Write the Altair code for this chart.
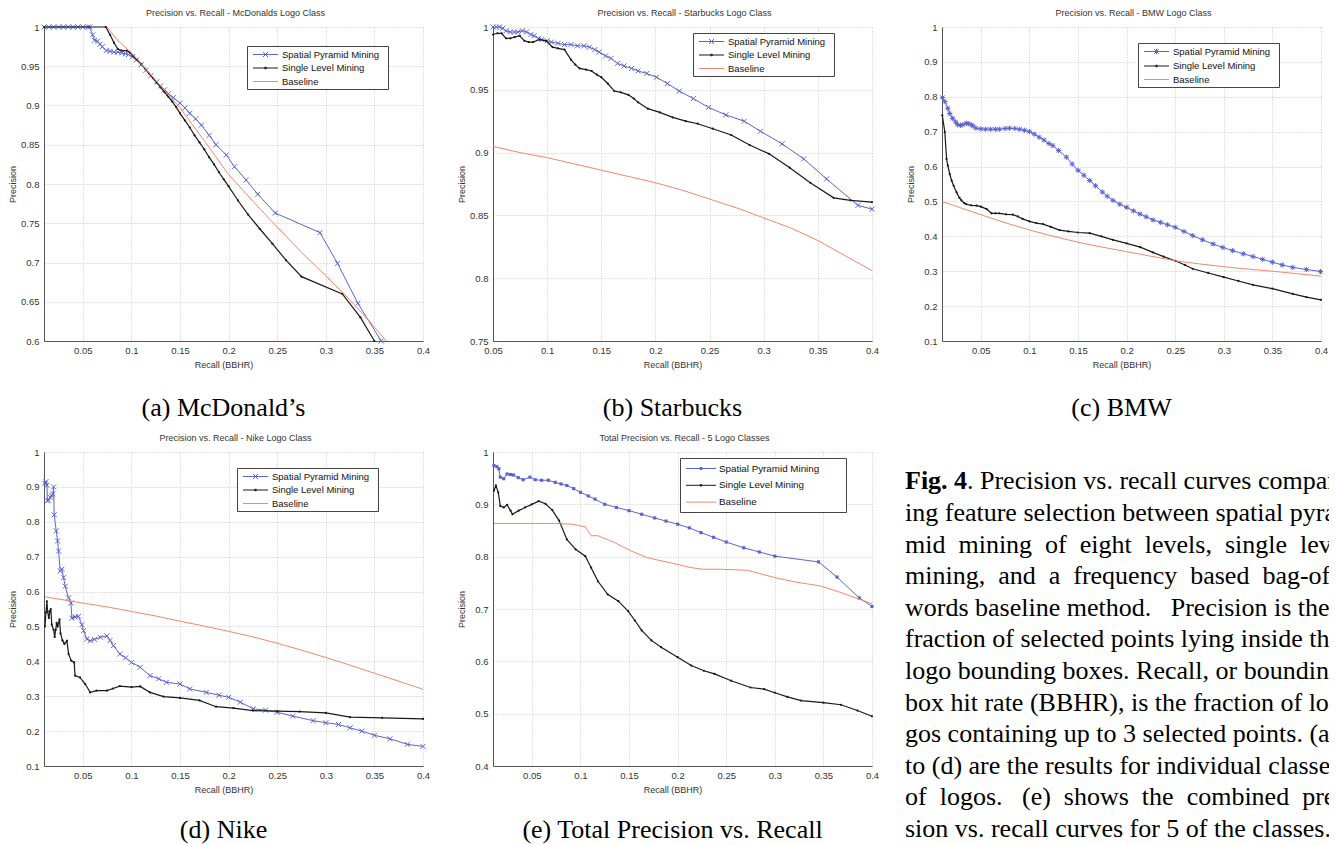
import altair as alt
import pandas as pd

SERIES = ["Spatial Pyramid Mining", "Single Level Mining", "Baseline"]
COLORS = ["#5a64d0", "#1a1a1a", "#f4866c"]
SANS = "Liberation Sans"
SERIF = "Liberation Serif"
NB = "\u00a0"
ZW = "\u200b"
W, H = 379, 314

X_TICKS = [0.05, 0.1, 0.15, 0.2, 0.25, 0.3, 0.35, 0.4]

# ---------------- (a) McDonald's ----------------
a_spm_x = [0.01, 0.015, 0.02, 0.025, 0.03, 0.035, 0.04, 0.045, 0.05, 0.055, 0.057, 0.06, 0.062, 0.065, 0.0675, 0.07, 0.074, 0.078, 0.082, 0.086, 0.09, 0.094, 0.097, 0.101, 0.105, 0.11, 0.115, 0.12, 0.126, 0.13, 0.134, 0.138, 0.143, 0.15, 0.155, 0.16, 0.166, 0.172, 0.18, 0.187, 0.1976, 0.206, 0.218, 0.23, 0.248, 0.294, 0.312, 0.333, 0.357]
a_spm_y = [1, 1, 1, 1, 1, 1, 1, 1, 1, 1, 1, 0.99, 0.983, 0.982, 0.978, 0.975, 0.97, 0.969, 0.968, 0.968, 0.967, 0.966, 0.965, 0.962, 0.958, 0.952, 0.945, 0.938, 0.93, 0.925, 0.92, 0.915, 0.91, 0.903, 0.897, 0.89, 0.883, 0.875, 0.862, 0.85, 0.837, 0.822, 0.805, 0.787, 0.763, 0.738, 0.699, 0.648, 0.6]
a_slm_x = [0.01, 0.0736, 0.078, 0.082, 0.086, 0.09, 0.095, 0.098, 0.102, 0.106, 0.11, 0.114, 0.118, 0.122, 0.126, 0.13, 0.134, 0.138, 0.142, 0.146, 0.15, 0.155, 0.16, 0.165, 0.17, 0.175, 0.18, 0.185, 0.19, 0.195, 0.2, 0.2096, 0.22, 0.232, 0.245, 0.259, 0.275, 0.317, 0.3356, 0.35]
a_slm_y = [1, 1, 0.99, 0.98, 0.972, 0.97, 0.97, 0.968, 0.963, 0.958, 0.953, 0.947, 0.941, 0.935, 0.929, 0.923, 0.917, 0.911, 0.905, 0.898, 0.89, 0.881, 0.872, 0.862, 0.853, 0.844, 0.834, 0.825, 0.815, 0.806, 0.797, 0.779, 0.761, 0.743, 0.724, 0.703, 0.682, 0.66, 0.63, 0.6]
a_base_x = [0.075, 0.085, 0.1, 0.125, 0.15, 0.175, 0.2, 0.225, 0.25, 0.275, 0.3, 0.325, 0.345, 0.362]
a_base_y = [1.0, 0.984, 0.967, 0.932, 0.897, 0.855, 0.812, 0.778, 0.745, 0.713, 0.683, 0.652, 0.625, 0.6]

# ---------------- (b) Starbucks ----------------
b_spm_x = [0.05, 0.053, 0.056, 0.059, 0.062, 0.066, 0.07, 0.073, 0.077, 0.081, 0.085, 0.088, 0.092, 0.095, 0.1, 0.104, 0.11, 0.116, 0.122, 0.128, 0.134, 0.139, 0.144, 0.148, 0.154, 0.159, 0.165, 0.171, 0.178, 0.184, 0.192, 0.201, 0.211, 0.222, 0.235, 0.249, 0.265, 0.282, 0.297, 0.317, 0.337, 0.358, 0.387, 0.4]
b_spm_y = [1.0, 1.0, 1.0, 0.999, 0.997, 0.996, 0.996, 0.996, 0.997, 0.996, 0.994, 0.993, 0.991, 0.99, 0.989, 0.988, 0.987, 0.986, 0.986, 0.985, 0.985, 0.984, 0.982, 0.98, 0.977, 0.975, 0.971, 0.969, 0.967, 0.965, 0.963, 0.96, 0.955, 0.949, 0.943, 0.936, 0.93, 0.925, 0.917, 0.907, 0.895, 0.879, 0.858, 0.855]
b_slm_x = [0.05, 0.054, 0.058, 0.062, 0.066, 0.07, 0.0746, 0.079, 0.083, 0.087, 0.093, 0.099, 0.105, 0.11, 0.116, 0.122, 0.126, 0.13, 0.136, 0.141, 0.146, 0.15, 0.156, 0.162, 0.168, 0.175, 0.18, 0.184, 0.193, 0.204, 0.216, 0.228, 0.239, 0.253, 0.27, 0.287, 0.305, 0.324, 0.343, 0.3646, 0.38, 0.4]
b_slm_y = [0.994, 0.995, 0.995, 0.991, 0.991, 0.992, 0.993, 0.989, 0.988, 0.988, 0.99, 0.989, 0.984, 0.983, 0.982, 0.974, 0.97, 0.967, 0.966, 0.965, 0.962, 0.96, 0.955, 0.949, 0.948, 0.946, 0.943, 0.94, 0.935, 0.932, 0.928, 0.925, 0.923, 0.919, 0.914, 0.906, 0.899, 0.888, 0.876, 0.864, 0.862, 0.8606]
b_base_x = [0.05, 0.075, 0.1, 0.125, 0.15, 0.175, 0.2, 0.225, 0.25, 0.275, 0.3, 0.325, 0.35, 0.375, 0.4]
b_base_y = [0.905, 0.9, 0.896, 0.891, 0.886, 0.881, 0.876, 0.87, 0.863, 0.856, 0.848, 0.84, 0.83, 0.818, 0.806]

# ---------------- (c) BMW ----------------
c_spm_x = [0.0105, 0.013, 0.016, 0.018, 0.021, 0.024, 0.026, 0.029, 0.0316, 0.035, 0.037, 0.04, 0.042, 0.045, 0.05, 0.055, 0.06, 0.065, 0.069, 0.075, 0.0795, 0.085, 0.09, 0.095, 0.1, 0.105, 0.11, 0.115, 0.12, 0.124, 0.13, 0.138, 0.144, 0.15, 0.156, 0.162, 0.168, 0.175, 0.18, 0.186, 0.193, 0.2, 0.207, 0.2137, 0.22, 0.227, 0.235, 0.242, 0.25, 0.259, 0.268, 0.278, 0.289, 0.299, 0.309, 0.32, 0.33, 0.34, 0.35, 0.36, 0.371, 0.385, 0.3995]
c_spm_y = [0.798, 0.786, 0.767, 0.752, 0.738, 0.728, 0.72, 0.718, 0.72, 0.724, 0.723, 0.72, 0.716, 0.71, 0.708, 0.707, 0.707, 0.707, 0.707, 0.709, 0.71, 0.709, 0.707, 0.704, 0.70, 0.693, 0.684, 0.676, 0.666, 0.66, 0.646, 0.627, 0.607, 0.589, 0.575, 0.56, 0.545, 0.527, 0.515, 0.503, 0.492, 0.483, 0.473, 0.464, 0.456, 0.447, 0.44, 0.433, 0.426, 0.414, 0.402, 0.39, 0.378, 0.368, 0.359, 0.35, 0.342, 0.334, 0.326, 0.318, 0.311, 0.305, 0.299]
c_slm_x = [0.0103, 0.0129, 0.0147, 0.016, 0.018, 0.0199, 0.022, 0.025, 0.028, 0.03, 0.033, 0.035, 0.04, 0.0455, 0.05, 0.056, 0.061, 0.065, 0.069, 0.076, 0.083, 0.088, 0.093, 0.1, 0.107, 0.114, 0.122, 0.131, 0.14, 0.15, 0.162, 0.174, 0.186, 0.2, 0.214, 0.227, 0.238, 0.25, 0.26, 0.268, 0.284, 0.3, 0.315, 0.33, 0.35, 0.371, 0.385, 0.4]
c_slm_y = [0.747, 0.699, 0.622, 0.603, 0.578, 0.56, 0.545, 0.526, 0.51, 0.503, 0.495, 0.492, 0.489, 0.488, 0.485, 0.478, 0.466, 0.466, 0.466, 0.463, 0.462, 0.457, 0.45, 0.443, 0.438, 0.435, 0.427, 0.418, 0.414, 0.411, 0.409, 0.4, 0.39, 0.38, 0.369, 0.354, 0.342, 0.33, 0.318, 0.307, 0.295, 0.283, 0.272, 0.261, 0.25, 0.235, 0.226, 0.218]
c_base_x = [0.0103, 0.03, 0.05, 0.075, 0.1, 0.125, 0.15, 0.175, 0.2, 0.225, 0.25, 0.275, 0.3, 0.325, 0.35, 0.375, 0.4]
c_base_y = [0.5, 0.481, 0.462, 0.439, 0.418, 0.4, 0.383, 0.369, 0.356, 0.343, 0.33, 0.321, 0.313, 0.306, 0.3, 0.293, 0.286]

# ---------------- (d) Nike ----------------
d_spm_x = [0.011, 0.012, 0.013, 0.0135, 0.0147, 0.0164, 0.018, 0.019, 0.0199, 0.0205, 0.0226, 0.024, 0.025, 0.0267, 0.0284, 0.0301, 0.0318, 0.0353, 0.0377, 0.0387, 0.042, 0.0455, 0.049, 0.0507, 0.054, 0.0575, 0.062, 0.068, 0.0747, 0.078, 0.0815, 0.088, 0.094, 0.1, 0.109, 0.119, 0.128, 0.136, 0.15, 0.16, 0.177, 0.19, 0.2, 0.212, 0.2253, 0.238, 0.25, 0.266, 0.287, 0.3, 0.313, 0.325, 0.337, 0.35, 0.366, 0.384, 0.4]
d_spm_y = [0.91, 0.915, 0.905, 0.86, 0.862, 0.87, 0.875, 0.88, 0.9, 0.82, 0.774, 0.745, 0.716, 0.659, 0.664, 0.64, 0.615, 0.582, 0.567, 0.524, 0.527, 0.529, 0.505, 0.488, 0.464, 0.459, 0.463, 0.469, 0.473, 0.46, 0.445, 0.421, 0.41, 0.397, 0.383, 0.359, 0.35, 0.34, 0.335, 0.321, 0.311, 0.303, 0.297, 0.283, 0.264, 0.26, 0.254, 0.243, 0.23, 0.224, 0.219, 0.2095, 0.2, 0.188, 0.178, 0.162, 0.156]
d_slm_x = [0.011, 0.012, 0.013, 0.0137, 0.015, 0.016, 0.017, 0.018, 0.0199, 0.021, 0.022, 0.023, 0.024, 0.026, 0.027, 0.029, 0.031, 0.0336, 0.0353, 0.038, 0.041, 0.042, 0.047, 0.0524, 0.0575, 0.064, 0.0747, 0.081, 0.088, 0.1, 0.109, 0.119, 0.133, 0.15, 0.17, 0.187, 0.205, 0.225, 0.25, 0.273, 0.3, 0.325, 0.358, 0.4]
d_slm_y = [0.5, 0.54, 0.572, 0.543, 0.524, 0.543, 0.55, 0.505, 0.49, 0.47, 0.49, 0.51, 0.5, 0.52, 0.48, 0.46, 0.45, 0.459, 0.421, 0.402, 0.397, 0.359, 0.354, 0.335, 0.311, 0.316, 0.316, 0.322, 0.329, 0.326, 0.328, 0.311, 0.299, 0.295, 0.288, 0.27, 0.266, 0.259, 0.257, 0.256, 0.252, 0.24, 0.238, 0.235]
d_base_x = [0.011, 0.05, 0.075, 0.1, 0.125, 0.15, 0.175, 0.2, 0.225, 0.25, 0.275, 0.3, 0.325, 0.35, 0.375, 0.4]
d_base_y = [0.585, 0.567, 0.556, 0.543, 0.53, 0.515, 0.501, 0.486, 0.47, 0.452, 0.432, 0.411, 0.389, 0.366, 0.343, 0.32]

# ---------------- (e) Total ----------------
e_spm_x = [0.011, 0.014, 0.016, 0.0175, 0.021, 0.0245, 0.028, 0.031, 0.036, 0.041, 0.048, 0.0534, 0.06, 0.067, 0.074, 0.08, 0.086, 0.093, 0.1, 0.108, 0.115, 0.125, 0.137, 0.15, 0.163, 0.1764, 0.188, 0.2, 0.212, 0.224, 0.237, 0.25, 0.268, 0.284, 0.3, 0.345, 0.364, 0.387, 0.4]
e_spm_y = [0.974, 0.972, 0.968, 0.952, 0.949, 0.958, 0.957, 0.956, 0.951, 0.947, 0.952, 0.947, 0.946, 0.946, 0.942, 0.939, 0.936, 0.93, 0.923, 0.916, 0.91, 0.9, 0.894, 0.888, 0.881, 0.874, 0.868, 0.862, 0.855, 0.846, 0.837, 0.828, 0.817, 0.809, 0.801, 0.79, 0.761, 0.721, 0.705]
e_slm_x = [0.011, 0.013, 0.0154, 0.0175, 0.021, 0.0245, 0.028, 0.03, 0.0365, 0.043, 0.05, 0.057, 0.064, 0.071, 0.078, 0.086, 0.095, 0.105, 0.111, 0.118, 0.128, 0.139, 0.149, 0.156, 0.163, 0.173, 0.183, 0.2, 0.214, 0.227, 0.238, 0.255, 0.275, 0.289, 0.3, 0.313, 0.327, 0.35, 0.368, 0.385, 0.4]
e_slm_y = [0.926, 0.936, 0.923, 0.897, 0.894, 0.899, 0.888, 0.881, 0.888, 0.894, 0.9, 0.906, 0.901, 0.889, 0.869, 0.833, 0.814, 0.801, 0.779, 0.753, 0.728, 0.715, 0.696, 0.678, 0.659, 0.64, 0.627, 0.608, 0.592, 0.582, 0.576, 0.563, 0.55, 0.547, 0.54, 0.532, 0.525, 0.521, 0.517, 0.506, 0.495]
e_base_x = [0.011, 0.074, 0.0913, 0.105, 0.111, 0.118, 0.135, 0.152, 0.169, 0.193, 0.214, 0.227, 0.244, 0.272, 0.282, 0.3, 0.323, 0.347, 0.364, 0.4]
e_base_y = [0.8635, 0.8635, 0.862, 0.857, 0.84, 0.84, 0.827, 0.811, 0.798, 0.788, 0.779, 0.776, 0.776, 0.774, 0.769, 0.76, 0.751, 0.744, 0.734, 0.71]

CAP_BOLD = "Fig. 4"
CAP_LINES = [
    ". Precision vs. recall curves comparing",
    "ing feature selection between spatial pyra-",
    f"mid{NB} mining{NB} of{NB} eight{NB} levels,{NB} single{NB} level",
    f"mining,{NB} and{NB} a{NB} frequency{NB} based{NB} bag-of-",
    f"words baseline method.{NB}{NB} Precision is the",
    "fraction of selected points lying inside the",
    "logo bounding boxes. Recall, or bounding",
    "box hit rate (BBHR), is the fraction of lo-",
    "gos containing up to 3 selected points. (a)",
    "to (d) are the results for individual classes",
    f"of{NB} logos.{NB}{NB} (e){NB} shows{NB} the{NB} combined{NB} preci-",
    "sion vs. recall curves for 5 of the classes.",
]


def series_df(spm, slm, base):
    rows = []
    for name, (xs, ys) in zip(SERIES, (spm, slm, base)):
        assert len(xs) == len(ys), name
        for i, (xv, yv) in enumerate(zip(xs, ys)):
            rows.append({"series": name, "x": xv, "y": yv, "i": i})
    return pd.DataFrame(rows)


def r(v):
    return round(v, 3)


def legend_paths(style, big):
    if big:
        l0, l1, m = -0.9, 5.1, 2.1
    else:
        l0, l1, m = -0.5, 4.5, 2.0
    line = f"M{l0},0L{l1},0"
    d = 0.5
    if style == "x":
        spm = line + f"M{r(m-d)},{-d}L{r(m+d)},{d}M{r(m-d)},{d}L{r(m+d)},{-d}"
    elif style == "star":
        d = 0.45
        spm = line + (f"M{r(m-d)},{-d}L{r(m+d)},{d}M{r(m-d)},{d}L{r(m+d)},{-d}"
                      f"M{m},-0.55L{m},0.55")
    else:
        q = 0.2
        spm = line + f"M{r(m-q)},{-q}L{r(m+q)},{-q}L{r(m+q)},{q}L{r(m-q)},{q}Z"
    q = 0.15
    slm = line + f"M{r(m-q)},{-q}L{r(m+q)},{-q}L{r(m+q)},{q}L{r(m-q)},{q}Z"
    return [spm, slm, line]


def panel(title, sub, xdom, ydom, yticks, data, style, lx, ly, big=False, sub_dy=75):
    df = series_df(*data)
    xsc = alt.Scale(domain=xdom, nice=False, zero=False)
    ysc = alt.Scale(domain=ydom, nice=False, zero=False)
    x = alt.X("x:Q", scale=xsc,
              axis=alt.Axis(values=X_TICKS, format="~g", title="Recall (BBHR)",
                            titleX=W / 2 - 10, labelPadding=4, titlePadding=6))
    y = alt.Y("y:Q", scale=ysc,
              axis=alt.Axis(values=yticks, format="~g", title="Precision",
                            labelPadding=5, titlePadding=6, minExtent=21, maxExtent=21))

    spm_df = df[df.series == SERIES[0]]
    slm_df = df[df.series == SERIES[1]]
    base_df = df[df.series == SERIES[2]]

    spm_line = alt.Chart(spm_df).mark_line(color=COLORS[0], strokeWidth=1).encode(x=x, y=y, order="i:Q")
    slm_line = alt.Chart(slm_df).mark_line(color=COLORS[1], strokeWidth=1.2).encode(x=x, y=y, order="i:Q")
    base_line = alt.Chart(base_df).mark_line(color=COLORS[2], strokeWidth=1).encode(x=x, y=y, order="i:Q")

    if style == "x":
        spm_mark = alt.Chart(spm_df).mark_point(shape="M-1,-1L1,1M-1,1L1,-1", size=25, filled=False,
                                                strokeWidth=1, color=COLORS[0], opacity=1)
    elif style == "star":
        spm_mark = alt.Chart(spm_df).mark_point(shape="M-1,-1L1,1M-1,1L1,-1M0,-1.3L0,1.3M-1.3,0L1.3,0",
                                                size=16, filled=False, strokeWidth=1, color=COLORS[0], opacity=1)
    else:
        spm_mark = alt.Chart(spm_df).mark_point(shape="square", size=10, filled=True, color=COLORS[0], opacity=1)
    spm_mark = spm_mark.encode(x=x, y=y)
    slm_mark = alt.Chart(slm_df).mark_point(shape="circle", size=5, filled=True, color=COLORS[1],
                                            opacity=1).encode(x=x, y=y)

    leg = alt.Legend(
        title=None, orient="none", legendX=lx, legendY=ly, direction="vertical",
        fillColor="white", strokeColor="#444",
        padding=5 if big else 3, rowPadding=5.8 if big else 3.5,
        labelFont=SANS, labelFontSize=9.8 if big else 9.5, labelColor="#111",
        labelOffset=23 if big else 21, labelLimit=400,
        labelExpr="datum.label + '" + NB * (8 if big else 2) + ZW + "'",
        symbolSize=100, symbolStrokeWidth=1,
    )
    leg_df = pd.DataFrame({"series": SERIES, "x": [xdom[0] - 1] * 3, "y": [ydom[0] - 1] * 3})
    dummy = alt.Chart(leg_df).mark_point(filled=False, size=100, strokeWidth=1, opacity=1, clip=True).encode(
        x=x, y=y,
        color=alt.Color("series:N", scale=alt.Scale(domain=SERIES, range=COLORS), legend=leg),
        shape=alt.Shape("series:N", scale=alt.Scale(domain=SERIES, range=legend_paths(style, big)), legend=leg),
    )

    subt = alt.Chart(pd.DataFrame({"t": [sub]})).mark_text(
        font=SERIF, fontSize=26, color="black", align="center", baseline="alphabetic"
    ).encode(x=alt.value(W / 2 - 10), y=alt.value(H + sub_dy), text="t:N")

    ttl = alt.Chart(pd.DataFrame({"t": [title]})).mark_text(
        font=SANS, fontSize=9, color="#333", align="center", baseline="alphabetic"
    ).encode(x=alt.value(W / 2 + 2), y=alt.value(-11), text="t:N")

    return alt.layer(dummy, spm_line, spm_mark, slm_line, slm_mark, base_line, subt, ttl).properties(
        width=W, height=H)


Y_A = [0.6, 0.65, 0.7, 0.75, 0.8, 0.85, 0.9, 0.95, 1]
Y_B = [0.75, 0.8, 0.85, 0.9, 0.95, 1]
Y_C = [0.1, 0.2, 0.3, 0.4, 0.5, 0.6, 0.7, 0.8, 0.9, 1]
Y_E = [0.4, 0.5, 0.6, 0.7, 0.8, 0.9, 1]

pa = panel("Precision vs. Recall - McDonalds Logo Class", "(a) McDonald\u2019s", [0.01, 0.4], [0.6, 1], Y_A,
           ((a_spm_x, a_spm_y), (a_slm_x, a_slm_y), (a_base_x, a_base_y)), "x", 203, 19)
pb = panel("Precision vs. Recall - Starbucks Logo Class", "(b) Starbucks", [0.05, 0.4], [0.75, 1], Y_B,
           ((b_spm_x, b_spm_y), (b_slm_x, b_slm_y), (b_base_x, b_base_y)), "x", 200, 6)
pc = panel("Precision vs. Recall - BMW Logo Class", "(c) BMW", [0.01, 0.4], [0.1, 1], Y_C,
           ((c_spm_x, c_spm_y), (c_slm_x, c_slm_y), (c_base_x, c_base_y)), "star", 196, 16)
pd_ = panel("Precision vs. Recall - Nike Logo Class", "(d) Nike", [0.01, 0.4], [0.1, 1], Y_C,
            ((d_spm_x, d_spm_y), (d_slm_x, d_slm_y), (d_base_x, d_base_y)), "x", 193, 16, sub_dy=72)
pe = panel("Total Precision vs. Recall - 5 Logo Classes", "(e) Total Precision vs. Recall", [0.01, 0.4], [0.4, 1], Y_E,
           ((e_spm_x, e_spm_y), (e_slm_x, e_slm_y), (e_base_x, e_base_y)), "sq", 187, 6, big=True, sub_dy=72)

# caption block
cap_df = pd.DataFrame({"line": list(range(len(CAP_LINES))), "t": CAP_LINES})
ycap = alt.Y("line:Q", scale=alt.Scale(domain=[0, 11], range=[37.3, 385.0]), axis=None)
cap_style = dict(font=SERIF, fontSize=26, align="left", baseline="alphabetic", color="black")
cap_bold = alt.Chart(pd.DataFrame({"line": [0], "t": [CAP_BOLD]})).mark_text(fontWeight="bold", **cap_style).encode(
    x=alt.value(-37), y=ycap, text="t:N")
cap_first = alt.Chart(cap_df).transform_filter("datum.line == 0").mark_text(**cap_style).encode(
    x=alt.value(25), y=ycap, text="t:N")
cap_rest = alt.Chart(cap_df).transform_filter("datum.line > 0").mark_text(**cap_style).encode(
    x=alt.value(-37), y=ycap, text="t:N")
caption = alt.layer(cap_bold, cap_first, cap_rest).properties(width=W, height=H)

chart = alt.concat(
    pa, pb, pc, pd_, pe, caption,
    columns=3, spacing={"row": 111, "column": 70}, bounds="flush",
).resolve_scale(
    color="independent", shape="independent"
).resolve_legend(
    color="independent", shape="independent"
).properties(
    autosize=alt.AutoSizeParams(type="none"),
    padding={"left": 36, "top": 19, "right": 1285, "bottom": 818},
).configure(font=SANS).configure_view(stroke=None).configure_axis(
    labelFont=SANS, labelFontSize=9.5, labelColor="#333",
    titleFont=SANS, titleFontSize=9, titleFontWeight="normal", titleColor="#333",
    grid=True, gridColor="#c4c4c4", gridDash=[1, 2], gridWidth=1,
    domainColor="#555", domainWidth=1, ticks=False, tickSize=0,
    labelFlush=False, labelOverlap=False,
)

chart.save("out.html", embed_options={"renderer": "svg", "actions": False})
